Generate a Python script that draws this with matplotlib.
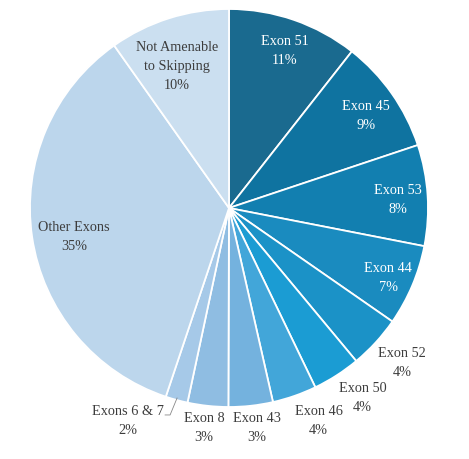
import matplotlib.pyplot as plt
import numpy as np

# 各外显子所占比例
names = ['Exon 51', 'Exon 45', 'Exon 53', 'Exon 44', 'Exon 52', 'Exon 50',
         'Exon 46', 'Exon 43', 'Exon 8', 'Exons 6 & 7', 'Other Exons',
         'Not Amenable\nto Skipping']
shares = [10.6, 9.3, 8.2, 6.6, 4.3, 3.9, 3.6, 3.6, 3.3, 1.8, 35.1, 9.8]
pct_labels = ['11%', '9%', '8%', '7%', '4%', '4%', '4%', '3%', '3%', '2%', '35%', '10%']

colors = ['#1a6a8f', '#0f73a0', '#127fb0', '#1a8bbf', '#1b92c7', '#1b9cd3',
          '#42a6d9', '#74b2de', '#8fbde2', '#a6c9e8', '#bcd6ec', '#cbdff0']
text_colors = ['white'] * 4 + ['#3d3d3d'] * 8

# 标签位置 (以半径为单位)
label_pos = [(0.28, 0.79), (0.69, 0.46), (0.85, 0.04), (0.80, -0.35),
             (0.87, -0.78), (0.67, -0.955), (0.45, -1.07), (0.14, -1.105),
             (-0.125, -1.105), (-0.51, -1.07), (-0.78, -0.145), (-0.26, 0.71)]

fig = plt.figure(figsize=(4.69, 4.59), dpi=100)
ax = fig.add_axes([0, 0, 1, 1])
wedges, _ = ax.pie(shares, colors=colors, startangle=90, counterclock=False,
                   radius=1, wedgeprops=dict(edgecolor='white', linewidth=1.3))

for i, w in enumerate(wedges):
    x, y = label_pos[i]
    ax.text(x, y, names[i] + '\n' + pct_labels[i], ha='center', va='center',
            fontsize=10.3, family='Liberation Serif', color=text_colors[i],
            linespacing=1.6)

# Exons 6 & 7 的引线
w = wedges[9]
mid = np.deg2rad((w.theta1 + w.theta2) / 2)
ex, ey = 0.99 * np.cos(mid), 0.99 * np.sin(mid)
ax.plot([ex, ex - 0.035, ex - 0.06], [ey, ey - 0.085, ey - 0.085],
        color='#888888', linewidth=0.6)

ax.set_xlim(-229 / 199, 240 / 199)
ax.set_ylim(-251 / 199, 208 / 199)
ax.set_aspect('auto')
ax.axis('off')
plt.savefig('out.png', dpi=100)
